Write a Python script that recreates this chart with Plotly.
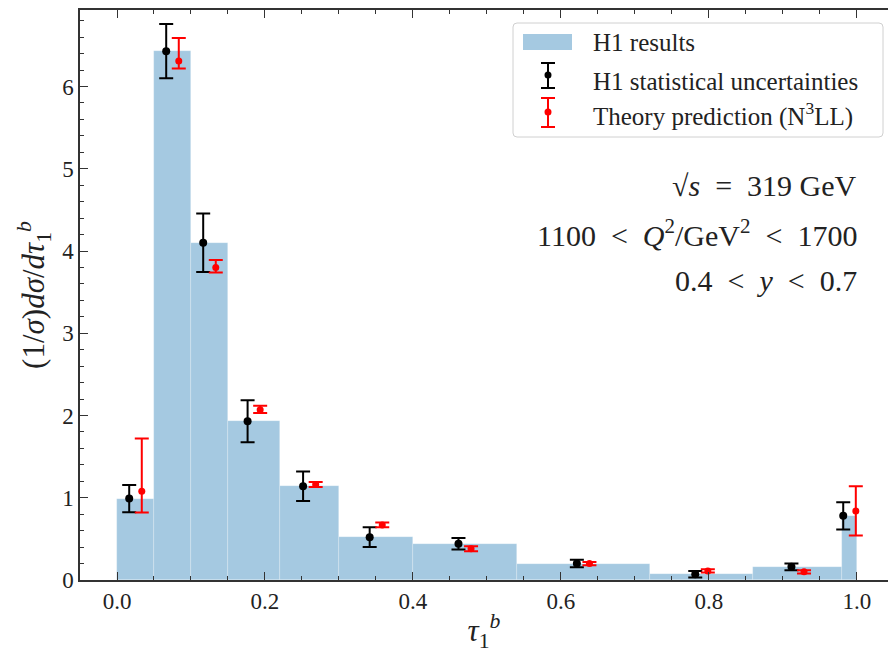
import plotly.graph_objects as go

# ---- data ----
bin_edges = [0.0, 0.05, 0.10, 0.15, 0.22, 0.30, 0.40, 0.54, 0.72, 0.86, 0.98, 1.0]
h1_values = [0.99, 6.43, 4.10, 1.93, 1.14, 0.52, 0.44, 0.20, 0.07, 0.16, 0.78]
h1_stat_err = [0.165, 0.33, 0.355, 0.255, 0.18, 0.12, 0.07, 0.045, 0.04, 0.04, 0.165]
theory_values = [1.08, 6.31, 3.80, 2.07, 1.16, 0.67, 0.38, 0.20, 0.11, 0.10, 0.84]
theory_err_up = [0.64, 0.28, 0.09, 0.05, 0.03, 0.03, 0.03, 0.02, 0.02, 0.02, 0.30]
theory_err_down = [0.26, 0.09, 0.06, 0.04, 0.03, 0.03, 0.03, 0.02, 0.02, 0.02, 0.30]
x_tick_vals = [0.0, 0.2, 0.4, 0.6, 0.8, 1.0]
x_tick_text = ["0.0", "0.2", "0.4", "0.6", "0.8", "1.0"]
y_tick_vals = [0, 1, 2, 3, 4, 5, 6]
legend_labels = ["H1 results", "H1 statistical uncertainties", "Theory prediction (N<sup>3</sup>LL)"]
info_lines = ["√<i>s</i>&nbsp;&nbsp;=&nbsp;&nbsp;319 GeV",
              "1100&nbsp;&nbsp;&lt;&nbsp;&nbsp;<i>Q</i><sup>2</sup>/GeV<sup>2</sup>&nbsp;&nbsp;&lt;&nbsp;&nbsp;1700",
              "0.4&nbsp;&nbsp;&lt;&nbsp;&nbsp;<i>y</i>&nbsp;&nbsp;&lt;&nbsp;&nbsp;0.7"]

centers = [(a + b) / 2 for a, b in zip(bin_edges[:-1], bin_edges[1:])]
widths = [b - a for a, b in zip(bin_edges[:-1], bin_edges[1:])]
shift = 0.0085
x_h1 = [c - shift for c in centers]
x_th = [c + shift for c in centers]

FONT = "Liberation Serif"
W, H = 888, 653
L, R, T, B = 80, 0, 10, 73
BAR_COLOR = "#a5c9e1"

fig = go.Figure()
fig.add_trace(go.Bar(x=centers, y=h1_values, width=widths, marker=dict(color=BAR_COLOR,
                     line=dict(color="rgba(255,255,255,0.35)", width=0.6)),
                     showlegend=False, hoverinfo="skip"))
fig.add_trace(go.Scatter(x=x_h1, y=h1_values, mode="markers",
                         marker=dict(color="black", size=8),
                         error_y=dict(type="data", array=h1_stat_err, color="black",
                                      thickness=2, width=7),
                         showlegend=False))
fig.add_trace(go.Scatter(x=x_th, y=theory_values, mode="markers",
                         marker=dict(color="red", size=7),
                         error_y=dict(type="data", symmetric=False, array=theory_err_up,
                                      arrayminus=theory_err_down, color="red",
                                      thickness=2, width=7),
                         showlegend=False))

pw = W - L - R
ph = H - T - B


def px(x):
    return (x - L) / pw


def py(y):
    return (H - B - y) / ph


shapes = []
# legend box (rounded)
x0, x1, y0, y1 = 513, 883, 23, 137
r = 4
path = (f"M {px(x0 + r)},{py(y0)} L {px(x1 - r)},{py(y0)} Q {px(x1)},{py(y0)} {px(x1)},{py(y0 + r)} "
        f"L {px(x1)},{py(y1 - r)} Q {px(x1)},{py(y1)} {px(x1 - r)},{py(y1)} "
        f"L {px(x0 + r)},{py(y1)} Q {px(x0)},{py(y1)} {px(x0)},{py(y1 - r)} "
        f"L {px(x0)},{py(y0 + r)} Q {px(x0)},{py(y0)} {px(x0 + r)},{py(y0)} Z")
shapes.append(dict(type="path", xref="paper", yref="paper", path=path,
                   line=dict(color="#d0d0d0", width=1), fillcolor="rgba(255,255,255,0.85)"))
# legend patch
shapes.append(dict(type="rect", xref="paper", yref="paper", x0=px(523), x1=px(572),
                   y0=py(34), y1=py(50), line=dict(width=0), fillcolor=BAR_COLOR))
# legend error glyphs
for col, yt, yb, yc in [("black", 63, 88, 75), ("red", 98, 127, 112)]:
    cx = 548
    shapes.append(dict(type="line", xref="paper", yref="paper", x0=px(cx), x1=px(cx),
                       y0=py(yt), y1=py(yb), line=dict(color=col, width=2)))
    for yy in (yt, yb):
        shapes.append(dict(type="line", xref="paper", yref="paper", x0=px(cx - 7), x1=px(cx + 7),
                           y0=py(yy), y1=py(yy), line=dict(color=col, width=2)))
    shapes.append(dict(type="circle", xref="paper", yref="paper", x0=px(cx - 3.5), x1=px(cx + 3.5),
                       y0=py(yc - 3.5), y1=py(yc + 3.5), line=dict(width=0), fillcolor=col))

annotations = []
for lab, yc in zip(legend_labels, [43, 82, 114]):
    annotations.append(dict(text=lab, xref="paper", yref="paper", x=px(591), y=py(yc),
                            xanchor="left", yanchor="middle", showarrow=False,
                            font=dict(family=FONT, size=25, color="#222")))
for lab, yc in zip(info_lines, [186, 233, 280]):
    annotations.append(dict(text=lab, xref="paper", yref="paper", x=px(859), y=py(yc),
                            xanchor="right", yanchor="middle", showarrow=False,
                            font=dict(family=FONT, size=30, color="#222")))

fig.update_layout(
    width=W, height=H, margin=dict(l=L, r=R, t=T, b=B),
    plot_bgcolor="white", paper_bgcolor="white",
    barmode="overlay", bargap=0,
    shapes=shapes, annotations=annotations,
    font=dict(family=FONT, color="#222"),
    xaxis=dict(range=[-0.05, 1.042], tickvals=x_tick_vals, ticktext=x_tick_text,
               ticks="inside", ticklen=8, tickwidth=1.3, tickcolor="#333",
               minor=dict(dtick=0.05, ticks="inside", ticklen=4, tickcolor="#333", tickwidth=1),
               showline=True, linecolor="#333", linewidth=1.5, mirror="ticks",
               showgrid=False, zeroline=False, tickfont=dict(size=23, family=FONT),
               title=dict(text="<i>τ</i><sub>1</sub><sup><i>b</i></sup>", standoff=6,
                          font=dict(size=31, family=FONT))),
    yaxis=dict(range=[0, 6.93], tickvals=y_tick_vals,
               ticks="inside", ticklen=8, tickwidth=1.3, tickcolor="#333",
               minor=dict(dtick=0.2, ticks="inside", ticklen=4, tickcolor="#333", tickwidth=1),
               showline=True, linecolor="#333", linewidth=1.5, mirror=False,
               showgrid=False, zeroline=False, tickfont=dict(size=23, family=FONT),
               title=dict(text="(1/<i>σ</i>)<i>dσ</i>/<i>dτ</i><sub>1</sub><sup><i>b</i></sup>",
                          standoff=8, font=dict(size=31, family=FONT))),
)

fig.write_html("out.html")
